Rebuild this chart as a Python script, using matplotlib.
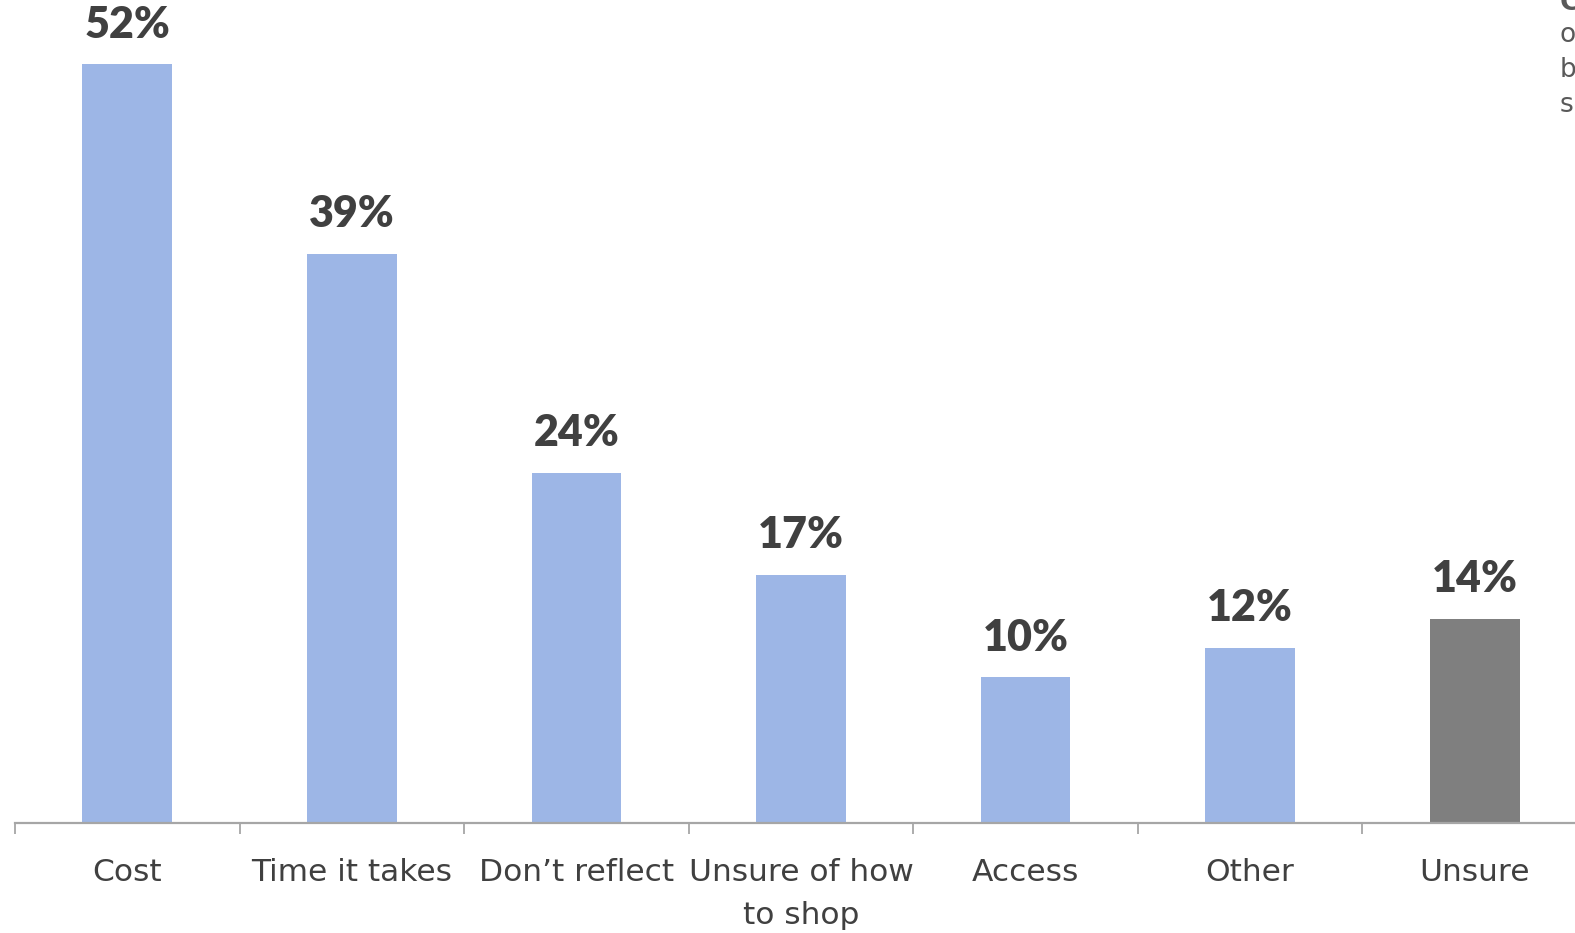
import matplotlib
matplotlib.use("Agg")
import matplotlib.pyplot as plt

categories = ["Cost", "Time it takes", "Don\u2019t reflect", "Unsure of how\nto shop",
              "Access", "Other", "Unsure"]
values = [52, 39, 24, 17, 10, 12, 14]
bar_colors = ["#9DB6E6"] * 6 + ["#7F7F7F"]
note_title = "Cost"
note_lines = ["of sustainable", "brands is", "seen as high"]

fig = plt.figure(figsize=(15.75, 9.33), dpi=100)
ax = fig.add_axes([15 / 1575, 110 / 933, 1572 / 1575, 823 / 933])

x = list(range(len(categories)))
bars = ax.bar(x, values, width=0.4, color=bar_colors, zorder=2)

ax.set_xlim(-0.5, len(categories) - 0.5)
ax.set_ylim(0, 56.4)

for rect, v in zip(bars, values):
    ax.annotate(f"{v}%", (rect.get_x() + rect.get_width() / 2, v),
                xytext=(0, 14), textcoords="offset points",
                ha="center", va="bottom", fontsize=31, fontweight="heavy",
                family="Lato", color="#404040")

for s in ["top", "right", "left"]:
    ax.spines[s].set_visible(False)
ax.spines["bottom"].set_color("#A6A6A6")
ax.spines["bottom"].set_linewidth(1.6)
ax.set_yticks([])

# category boundaries carry the tick marks, labels sit at the bar centres
ax.set_xticks([i - 0.5 for i in range(len(categories) + 1)], minor=False)
ax.set_xticklabels([])
ax.tick_params(axis="x", which="major", length=8, width=1.3, color="#A6A6A6")
ax.set_xticks(x, minor=True)
ax.set_xticklabels(categories, minor=True, fontsize=22.5, color="#404040",
                   family="DejaVu Sans", linespacing=1.6)
ax.tick_params(axis="x", which="minor", length=0, pad=25)

# side note at the upper right, one line per text
note_x = 1560 / 1575
fig.text(note_x, 1 - 10 / 933, note_title, fontsize=19, fontweight="bold",
         color="#595959", ha="left", va="baseline")
for i, line in enumerate(note_lines):
    fig.text(note_x, 1 - (42 + 35 * i) / 933, line, fontsize=19,
             color="#595959", ha="left", va="baseline")

fig.savefig("out.png", dpi=100)
